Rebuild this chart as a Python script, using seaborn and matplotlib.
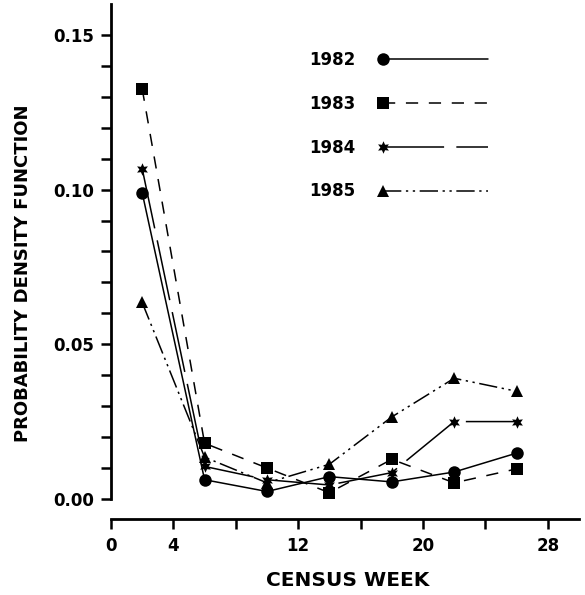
import matplotlib
matplotlib.use("Agg")
import matplotlib.pyplot as plt
import seaborn as sns
import pandas as pd

weeks = [2, 6, 10, 14, 18, 22, 26]
years = ["1982", "1983", "1984", "1985"]
pdf_1982 = [0.099, 0.0062, 0.0024, 0.0072, 0.0055, 0.0087, 0.0148]
pdf_1983 = [0.1326, 0.0180, 0.0100, 0.0020, 0.0128, 0.0052, 0.0097]
pdf_1984 = [0.1068, 0.0105, 0.0062, 0.0045, 0.0085, 0.0250, 0.0250]
pdf_1985 = [0.0635, 0.0135, 0.0052, 0.0112, 0.0265, 0.0390, 0.0348]
xtick_vals = [0, 4, 8, 12, 16, 20, 24, 28]
xtick_labels = ["0", "4", "", "12", "", "20", "", "28"]
ytick_vals = [0.00, 0.05, 0.10, 0.15]
ytick_labels = ["0.00", "0.05", "0.10", "0.15"]

series = {"1982": pdf_1982, "1983": pdf_1983, "1984": pdf_1984, "1985": pdf_1985}
df = pd.DataFrame([(y, w, v) for y in years for w, v in zip(weeks, series[y])],
                  columns=["year", "week", "pdf"])

sns.set_theme(style="white")
plt.rcParams["font.family"] = ["DejaVu Sans"]
plt.rcParams["font.weight"] = "bold"
plt.rcParams["text.color"] = "black"
plt.rcParams["axes.labelcolor"] = "black"
plt.rcParams["xtick.color"] = "black"
plt.rcParams["ytick.color"] = "black"

fig = plt.figure(figsize=(5.85, 5.95), dpi=100)
ax = fig.add_axes([0.1897, 0.1277, 0.80, 0.8656])

styles = {
    "1982": dict(marker="o", linestyle="-"),
    "1983": dict(marker="s", linestyle=(0, (8, 7))),
    "1984": dict(marker=(6, 1, 0), linestyle=(0, (40, 8))),
    "1985": dict(marker="^", linestyle=(0, (12, 3, 1.5, 3, 1.5, 3))),
}
for y in years:
    sub = df[df["year"] == y]
    sns.lineplot(data=sub, x="week", y="pdf", ax=ax, color="black", lw=1.1,
                 markersize=9, markeredgewidth=0, label=y, **styles[y])

ax.set_xlim(0, 30)
ax.set_ylim(-0.0065, 0.16)
for s in ["top", "right"]:
    ax.spines[s].set_visible(False)
ax.spines["left"].set_bounds(0, 0.16)
ax.spines["bottom"].set_bounds(0, 30)
for s in ["left", "bottom"]:
    ax.spines[s].set_color("black")
    ax.spines[s].set_linewidth(2)

ax.set_xticks(xtick_vals)
ax.set_xticklabels(xtick_labels)
ax.set_yticks(ytick_vals)
ax.set_yticklabels(ytick_labels)
ax.set_yticks([v / 100 for v in range(0, 16)], minor=True)
ax.tick_params(axis="both", which="both", direction="out", colors="black",
               width=1.8, length=7, labelsize=12, pad=6, left=True, bottom=True)
ax.tick_params(axis="y", which="major", pad=5)
for t in ax.get_xticklabels() + ax.get_yticklabels():
    t.set_fontweight("bold")

ax.set_xlabel("CENSUS WEEK", fontsize=14.5, fontweight="bold", color="black")
ax.set_ylabel("PROBABILITY DENSITY FUNCTION", fontsize=13, fontweight="bold", color="black")
ax.xaxis.set_label_coords(0.505, -0.1)
ax.yaxis.set_label_coords(-0.168, 0.478)

handles, labels = ax.get_legend_handles_labels()
leg = ax.legend(handles, labels, loc="upper left", bbox_to_anchor=(0.405, 0.925),
                frameon=False, markerfirst=False, handlelength=6.3, handletextpad=1.7,
                labelspacing=1.55, fontsize=12, borderpad=0)
for t in leg.get_texts():
    t.set_fontweight("bold")
    t.set_color("black")
for ln in leg.get_lines():
    ln.set_markevery([0])

fig.savefig("out.png", dpi=100)
